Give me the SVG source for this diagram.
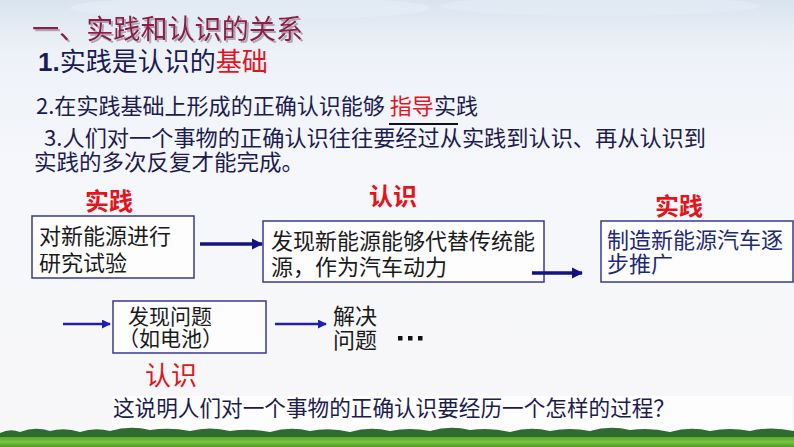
<svg xmlns="http://www.w3.org/2000/svg" width="794" height="447" viewBox="0 0 794 447">
<defs>
<linearGradient id="sky" x1="0" y1="0" x2="0" y2="1">
<stop offset="0" stop-color="#d9e4f0"/>
<stop offset="0.12" stop-color="#eef2f8"/>
<stop offset="0.4" stop-color="#f6f7fb"/>
<stop offset="1" stop-color="#f7f7f8"/>
</linearGradient>
<linearGradient id="grass" x1="0" y1="0" x2="0" y2="1">
<stop offset="0" stop-color="#5aa832"/>
<stop offset="0.5" stop-color="#78c43c"/>
<stop offset="1" stop-color="#4e9a2a"/>
</linearGradient>
<filter id="shadow" x="-5%" y="-20%" width="110%" height="150%">
<feDropShadow dx="2" dy="2" stdDeviation="0.6" flood-color="#a8a0a8" flood-opacity="0.9"/>
</filter>
<marker id="ah" viewBox="0 0 10 10" refX="9" refY="5" markerWidth="3.2" markerHeight="3.2" orient="auto" markerUnits="strokeWidth">
<path d="M0,0 L10,5 L0,10 z" fill="#13137e"/>
</marker>
<marker id="ah2" viewBox="0 0 10 10" refX="9" refY="5" markerWidth="3.6" markerHeight="3.6" orient="auto" markerUnits="strokeWidth">
<path d="M0,0 L10,5 L0,10 z" fill="#2020a8"/>
</marker>
<style>
.t{font-family:"Noto Sans CJK SC","Liberation Sans",sans-serif;}
.body{fill:#1c1c4e;font-size:22px;}
.red{fill:#e3141c;}
.lbl{fill:#e3141c;font-size:24px;font-weight:bold;}
.box{fill:#fdfdfe;stroke:#3a3a8c;stroke-width:1.5;}
.bt{font-size:22px;fill:#1a1a1a;}
.c1{stroke:#13137e;stroke-width:3.5;fill:none;}
.c2{stroke:#2020a8;stroke-width:2.5;fill:none;}
</style>
</defs>
<rect x="0" y="0" width="794" height="447" fill="url(#sky)"/>
<ellipse cx="250" cy="8" rx="180" ry="12" fill="#e6edf6" opacity="0.7"/>
<ellipse cx="600" cy="6" rx="160" ry="10" fill="#e4ebf5" opacity="0.7"/>
<rect x="112" y="396" width="680" height="36" fill="#ffffff" opacity="0.7"/>

<g id="title">
<text class="t" x="32" y="39" font-size="27" fill="#8e1a4c" filter="url(#shadow)" textLength="271" lengthAdjust="spacingAndGlyphs">一、实践和认识的关系</text>
</g>
<g id="point1">
<text class="t" x="38" y="71" font-size="26" fill="#1a1a55"><tspan font-family="Liberation Sans" font-weight="bold">1.</tspan>实践是认识的<tspan class="red">基础</tspan></text>
</g>
<g id="point2">
<text class="t body" x="36" y="114" font-size="21" textLength="442" lengthAdjust="spacingAndGlyphs">2.在实践基础上形成的正确认识能够 <tspan class="red">指导</tspan>实践</text>
<line x1="389" y1="124" x2="458" y2="124" stroke="#111" stroke-width="2"/>
</g>
<g id="point3">
<text class="t body"><tspan x="44" y="146" textLength="662" lengthAdjust="spacingAndGlyphs">3.人们对一个事物的正确认识往往要经过从实践到认识、再从认识到</tspan><tspan x="34" y="170" textLength="270" lengthAdjust="spacingAndGlyphs">实践的多次反复才能完成。</tspan></text>
</g>

<g id="node1">
<text class="t lbl" x="109" y="210" text-anchor="middle">实践</text>
<rect class="box" x="32" y="216" width="162" height="62"/>
<text class="t bt"><tspan x="39" y="244">对新能源进行</tspan><tspan x="39" y="271">研究试验</tspan></text>
</g>
<g id="node2">
<text class="t lbl" x="393" y="205" text-anchor="middle">认识</text>
<rect class="box" x="263" y="221" width="281" height="61"/>
<text class="t bt"><tspan x="271" y="249">发现新能源能够代替传统能</tspan><tspan x="271" y="275">源，作为汽车动力</tspan></text>
</g>
<g id="node3">
<text class="t lbl" x="679" y="215" text-anchor="middle">实践</text>
<rect class="box" x="601" y="221" width="192" height="61"/>
<text class="t bt" style="fill:#1f2a72"><tspan x="607" y="248">制造新能源汽车逐</tspan><tspan x="607" y="272">步推广</tspan></text>
</g>
<g id="node4">
<rect class="box" x="113" y="301" width="153" height="52"/>
<text class="t bt" style="font-size:21px"><tspan x="128" y="324">发现问题</tspan><tspan x="118" y="346">（如电池）</tspan></text>
<text class="t red" x="171" y="385" font-size="26" text-anchor="middle">认识</text>
</g>
<g id="node5">
<text class="t bt"><tspan x="333" y="324">解决</tspan><tspan x="333" y="348">问题</tspan></text>
<g fill="#111">
<rect x="398" y="336" width="4.5" height="4.5"/>
<rect x="408" y="336" width="4.5" height="4.5"/>
<rect x="418" y="336" width="4.5" height="4.5"/>
</g>
</g>

<g id="connectors">
<line class="c1" x1="200" y1="244" x2="262" y2="244" marker-end="url(#ah)"/>
<line class="c1" x1="532" y1="273" x2="582" y2="273" marker-end="url(#ah)"/>
<line class="c2" x1="63" y1="324" x2="110" y2="324" marker-end="url(#ah2)"/>
<line class="c2" x1="275" y1="324" x2="326" y2="324" marker-end="url(#ah2)"/>
</g>

<g id="question">
<text class="t body" x="113" y="416" textLength="562" lengthAdjust="spacingAndGlyphs">这说明人们对一个事物的正确认识要经历一个怎样的过程？</text>
</g>

<g id="ground">
<path d="M0,433 Q10,428 20,432 Q35,426 50,431 Q65,427 80,432 Q95,427 110,431 Q130,425 150,430 Q170,427 190,431 Q210,426 230,431 Q250,428 270,432 Q290,426 310,431 Q330,427 350,432 Q370,426 390,431 Q410,427 430,431 Q450,425 470,430 Q490,427 510,432 Q530,426 550,431 Q570,427 590,431 Q610,425 630,430 Q650,427 670,432 Q690,426 710,431 Q730,427 750,431 Q770,426 794,431 L794,440 L0,440 Z" fill="#2f6b2e"/>
<rect x="0" y="437" width="794" height="10" fill="url(#grass)"/>
</g>
</svg>
